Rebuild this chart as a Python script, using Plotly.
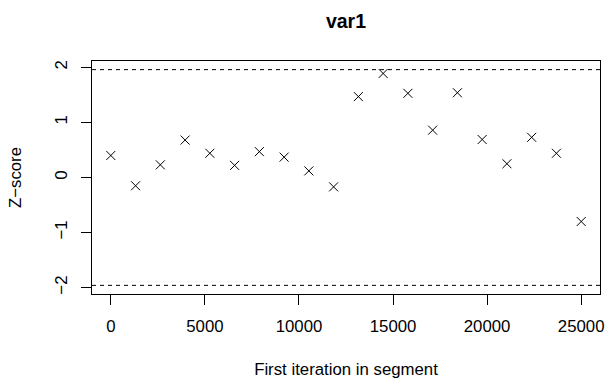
import plotly.graph_objects as go

# Geweke diagnostic for var1: start iteration of each segment and its Z-score
seg_start = [0, 1316, 2632, 3947, 5263, 6579, 7895, 9211, 10526, 11842,
             13158, 14474, 15789, 17105, 18421, 19737, 21053, 22368, 23684, 25000]
z_score = [0.40, -0.15, 0.23, 0.68, 0.44, 0.22, 0.47, 0.37, 0.12, -0.17,
           1.47, 1.89, 1.53, 0.86, 1.54, 0.69, 0.25, 0.73, 0.44, -0.80]
z_bounds = [-1.96, 1.96]

x_ticks = [0, 5000, 10000, 15000, 20000, 25000]
y_ticks = [-2, -1, 0, 1, 2]

FONT = "Liberation Sans, Arial, Helvetica, sans-serif"

fig = go.Figure()
fig.add_trace(go.Scatter(
    x=seg_start, y=z_score, mode="markers",
    marker=dict(symbol="x-thin-open", size=9, color="black",
                line=dict(color="black", width=1)),
    showlegend=False, hoverinfo="x+y",
))

for b in z_bounds:
    fig.add_shape(type="line", xref="paper", yref="y", x0=0, x1=1, y0=b, y1=b,
                  line=dict(color="black", width=1, dash="4px,4px"))

axis_common = dict(
    showline=True, linecolor="black", linewidth=1, mirror=True,
    ticks="outside", ticklen=10, tickwidth=1, tickcolor="black",
    showgrid=False, zeroline=False, automargin=False,
    tickfont=dict(family=FONT, size=16.8, color="black"),
)

fig.update_layout(
    width=608, height=380,
    margin=dict(l=92, r=8, t=61, b=86),
    paper_bgcolor="white", plot_bgcolor="white",
    font=dict(family=FONT, color="black"),
    title=dict(text="<b>var1</b>", x=0.569, xanchor="center",
               y=1 - 21 / 380, yref="container", yanchor="middle",
               font=dict(family=FONT, size=19.5, color="black")),
    xaxis=dict(range=[-1000, 26000], tickvals=x_ticks,
               ticktext=[str(v) for v in x_ticks],
               ticklabelstandoff=7,
               title=dict(text="First iteration in segment", standoff=28,
                          font=dict(family=FONT, size=16.8)),
               **axis_common),
    yaxis=dict(range=[-2.1168, 2.1168], tickvals=y_ticks,
               ticktext=[str(v) if v >= 0 else "\u2212" + str(-v) for v in y_ticks],
               tickangle=-90,
               ticklabelstandoff=7,
               title=dict(text="Z\u2212score", standoff=26,
                          font=dict(family=FONT, size=16.8)),
               **axis_common),
)

fig.write_html("out.html")
